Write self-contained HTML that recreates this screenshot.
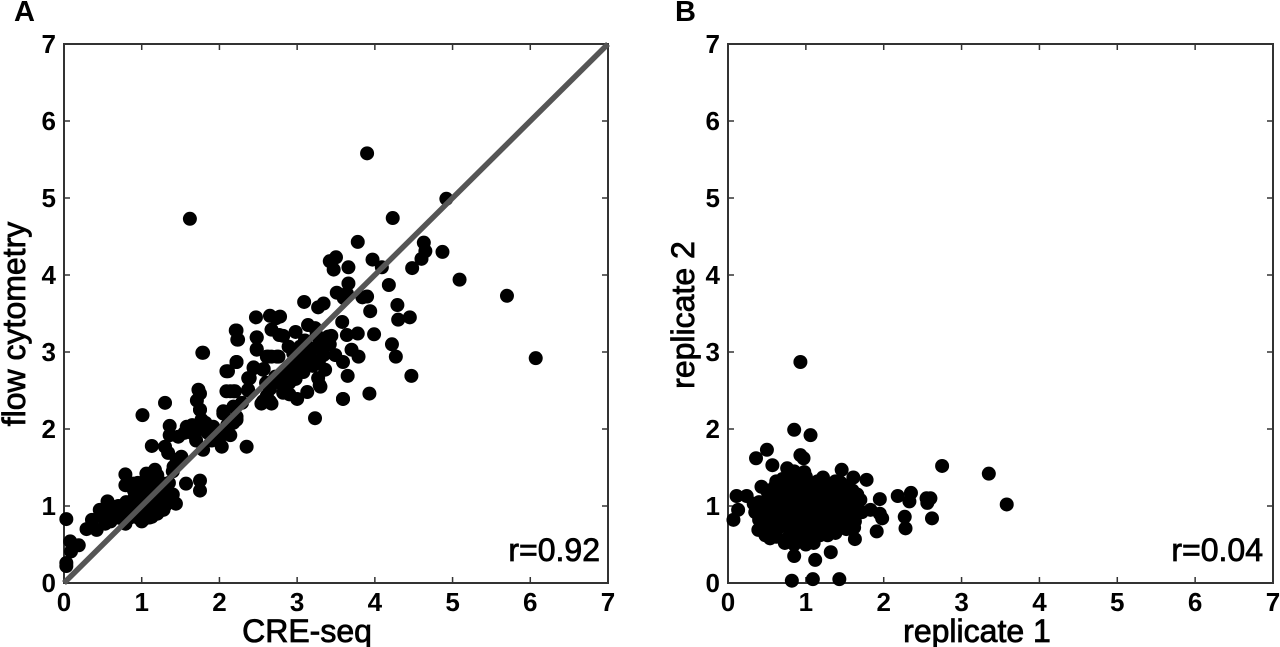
<!DOCTYPE html>
<html>
<head>
<meta charset="utf-8">
<style>
html,body{margin:0;padding:0;background:#fff;width:1280px;height:647px;overflow:hidden}
svg{display:block}
text{font-family:"Liberation Sans",sans-serif;fill:#000}
.tick{font-size:26px;font-weight:bold}
.title{font-size:32px;stroke:#000;stroke-width:.8px}
.note{font-size:32px;stroke:#000;stroke-width:.8px}
.letter{font-size:29px;font-weight:bold}
</style>
</head>
<body>
<svg id="figure" width="1280" height="647" viewBox="0 0 1280 647" xmlns="http://www.w3.org/2000/svg"></svg>
<script>
const tickLabels = [0, 1, 2, 3, 4, 5, 6, 7];
const panelATitles = ["CRE-seq", "flow cytometry", "r=0.92", "A"];
const panelBTitles = ["replicate 1", "replicate 2", "r=0.04", "B"];
const panelAPoints = [
[3.90,5.58],[1.62,4.73],[5.70,3.73],[6.07,2.92],[4.92,4.99],
[4.23,4.74],[3.78,4.43],[4.63,4.42],[4.65,4.31],[4.87,4.30],[4.60,4.21],[4.48,4.09],[5.09,3.94],
[3.50,4.23],[3.42,4.18],[3.47,4.07],[3.66,4.10],[3.97,4.20],[4.09,4.10],[4.18,3.87],[3.66,3.89],
[3.51,3.77],[3.64,3.76],[3.60,3.70],[3.84,3.71],[3.90,3.72],[3.09,3.65],[3.27,3.58],[3.34,3.63],
[3.94,3.53],[4.29,3.61],[4.30,3.42],[4.45,3.45],[2.47,3.45],[2.65,3.47],[2.78,3.46],[2.73,3.44],
[2.67,3.29],[2.77,3.22],[2.82,3.21],[2.98,3.26],[3.14,3.35],[3.23,3.31],[3.58,3.39],[3.44,3.21],
[3.64,3.22],[3.78,3.24],[3.99,3.23],[4.22,3.10],[4.27,2.94],[4.47,2.69],[2.21,3.28],[2.23,3.16],
[2.48,3.19],[2.48,3.04],[1.79,2.99],[2.22,2.87],[2.11,2.75],[2.44,2.80],[2.57,2.78],[2.37,2.66],
[2.14,2.49],[2.20,2.49],[2.37,2.51],[2.67,2.94],[2.76,2.94],[2.61,2.94],[2.89,3.07],[3.04,3.07],
[3.17,3.01],[3.29,3.16],[3.34,2.96],[3.49,2.96],[3.59,2.87],[3.70,3.03],[3.79,2.94],[3.36,2.77],
[3.27,2.66],[3.30,2.55],[3.65,2.69],[3.59,2.39],[3.93,2.46],[3.23,2.14],[3.13,2.48],[3.00,2.39],
[2.82,2.47],[2.67,2.33],[2.54,2.33],[2.61,2.43],[2.65,2.52],[2.78,2.60],[2.88,2.73],[2.90,2.60],
[3.08,2.74],[3.03,2.87],[3.17,2.92],[3.13,2.97],[2.05,2.20],[2.18,2.29],[2.29,2.34],[2.18,2.08],
[2.22,2.16],[1.88,2.03],[1.75,2.25],[1.75,2.46],[3.22,3.05],[3.30,3.10],[3.40,3.20],[2.95,2.85],
[2.98,2.65],[2.72,2.68],[3.20,2.82],[2.95,2.98],[3.05,2.95],[3.10,2.82],[3.28,2.88],[3.42,3.10],
[2.90,2.45],[2.80,2.70],[2.60,2.60],[3.00,2.75],[3.25,3.22],[3.10,3.15],
[0.03,0.83],[0.08,0.54],[0.19,0.49],[0.03,0.26],[0.03,0.22],[0.09,0.41],[0.29,0.70],[0.36,0.82],
[0.42,0.69],[0.46,0.95],[0.56,1.06],[0.59,0.90],[0.68,0.98],[0.53,0.77],[0.79,1.41],[0.79,1.27],
[0.79,0.77],[0.89,1.29],[0.96,1.21],[1.06,1.42],[1.17,1.47],[1.02,0.82],[1.13,0.86],[1.28,0.95],
[1.44,1.03],[1.57,1.29],[1.75,1.33],[1.75,1.20],[1.01,2.18],[1.30,2.34],[1.13,1.78],[1.30,1.77],
[1.34,1.69],[1.51,1.64],[1.41,1.51],[1.36,2.04],[1.36,1.92],[1.47,1.90],[1.58,2.03],[1.66,1.94],
[1.73,2.51],[1.71,2.37],[1.75,2.25],[1.77,2.12],[1.92,2.03],[1.79,1.73],[2.03,1.77],[2.01,1.90],
[2.14,1.92],[2.35,1.77],[2.22,2.12],[2.05,2.23],[1.78,2.99],[2.09,2.75],[2.22,2.87],[2.09,2.49],
[2.18,2.49],[2.37,2.50],[2.39,2.66],[2.44,2.79],[2.56,2.77],[2.24,3.16],[2.22,3.28],[2.48,3.19],
[2.48,3.03],[2.56,2.36],[2.65,2.36],[2.63,2.94],[2.74,2.94],[3.59,2.39],[3.29,2.57],
[1.55,1.95],[1.70,1.85],[1.85,1.95],[1.75,2.00],[1.65,2.05],[1.82,2.08],[1.90,1.85],[2.10,2.05],[1.45,1.60],
[0.50,0.85],[0.55,0.95],[0.60,0.80],[0.60,1.00],[0.65,0.90],[0.70,0.85],[0.70,1.00],[0.75,0.95],
[0.80,0.90],[0.80,1.05],[0.85,1.00],[0.85,0.85],[0.90,0.95],[0.90,1.10],[0.95,0.85],[0.95,1.05],
[1.00,0.95],[1.00,1.15],[1.00,0.85],[1.05,1.05],[1.05,1.25],[1.05,0.90],[1.10,1.00],[1.10,1.15],
[1.10,1.35],[1.15,0.95],[1.15,1.10],[1.15,1.30],[1.20,1.00],[1.20,1.20],[1.20,0.90],[1.25,1.10],
[1.25,1.30],[1.30,1.00],[1.30,1.15],[1.35,1.10],[1.35,1.30],[1.40,1.15],[1.20,1.40],[1.10,0.85],
[1.00,0.80],[0.90,1.20],[0.95,1.30],[1.40,1.45]
];
const panelBPoints = [
[0.93,2.87],[0.85,1.99],[1.06,1.92],[0.50,1.73],[0.36,1.62],[0.57,1.53],[0.93,1.66],[0.97,1.62],
[0.76,1.49],[1.46,1.47],[1.61,1.37],[1.78,1.34],[1.22,1.37],[0.98,1.44],[2.75,1.52],[3.35,1.42],
[3.58,1.02],[2.35,1.17],[2.18,1.13],[2.33,1.06],[2.55,1.10],[2.60,1.10],[2.56,1.04],[2.62,0.84],
[2.27,0.86],[2.28,0.71],[1.95,1.09],[1.98,0.84],[1.91,0.67],[1.95,0.90],[1.83,0.95],[1.63,0.57],
[1.32,0.40],[1.12,0.30],[0.85,0.35],[0.82,0.03],[1.09,0.05],[1.43,0.05],[0.07,0.82],[0.11,1.13],
[0.24,1.13],[0.33,1.03],[0.13,0.95],[0.43,1.25],[0.39,0.69],[0.54,0.58],[0.73,0.52],[1.10,0.52],
[1.38,0.65],[1.63,0.80],[1.70,1.08],
[0.70,1.35],[0.80,1.38],[0.90,1.35],[1.00,1.38],[1.30,1.28],[1.45,1.30],[1.60,1.20],
[0.50,1.20],[0.60,1.25],[0.70,1.22],[0.80,1.25],[0.90,1.22],[1.00,1.25],[1.10,1.25],[1.20,1.22],[1.30,1.18],[1.40,1.20],[1.50,1.15],
[0.40,1.05],[0.50,1.08],[0.60,1.10],[0.70,1.10],[0.80,1.12],[0.90,1.10],[1.00,1.12],[1.10,1.10],[1.20,1.10],[1.30,1.08],[1.40,1.10],[1.50,1.05],[1.60,1.05],
[0.45,0.95],[0.55,0.97],[0.65,0.98],[0.75,1.00],[0.85,0.98],[0.95,1.00],[1.05,0.98],[1.15,1.00],[1.25,0.97],[1.35,0.98],[1.45,0.97],[1.55,0.95],[1.65,0.95],
[0.40,0.82],[0.50,0.85],[0.60,0.85],[0.70,0.87],[0.80,0.88],[0.90,0.85],[1.00,0.87],[1.10,0.88],[1.20,0.85],[1.30,0.85],[1.40,0.87],[1.50,0.85],[1.58,0.82],
[0.45,0.72],[0.55,0.72],[0.65,0.72],[0.75,0.75],[0.85,0.73],[0.95,0.75],[1.05,0.72],[1.15,0.73],[1.25,0.72],[1.35,0.75],[1.45,0.75],
[0.78,0.60],[0.88,0.62],[0.98,0.60],[1.08,0.62],[1.18,0.62],[1.28,0.62],[0.85,0.50],[1.00,0.50],
[0.62,1.32],[1.52,1.25],[1.66,1.15],[1.72,0.92],[1.62,0.72],[1.52,0.70],[0.35,0.92],[0.48,0.62],[0.62,0.60],[1.38,1.32],[1.15,1.32],[0.85,1.45]
];
const svgNS = "http://www.w3.org/2000/svg";
const figure = document.getElementById("figure");
const axisColor = "#333";
function mk(tag, attrs, parent, content) {
  const el = document.createElementNS(svgNS, tag);
  for (const k in attrs) el.setAttribute(k, attrs[k]);
  if (content !== undefined) el.textContent = content;
  parent.appendChild(el);
  return el;
}
function drawPanel(id, left, right, titles, points, withLine, noteX, xTitleX, yTitleX, yTitleY, letterX) {
  const top = 44, bottom = 583, maxV = 7;
  const sx = v => left + (right - left) * v / maxV;
  const sy = v => bottom - (bottom - top) * v / maxV;
  const g = mk("g", {}, figure);
  
  
  const box = mk("rect", {x:left, y:top, width:right-left, height:bottom-top, fill:"none", stroke:axisColor, "stroke-width":2}, g);
  
  
  tickLabels.forEach(t => {
    if (t > 0 && t < maxV) {
      [[sx(t),bottom,sx(t),bottom-6],[sx(t),top,sx(t),top+6],[left,sy(t),left+6,sy(t)],[right,sy(t),right-6,sy(t)]].forEach(c => {
        const tm = mk("line", {x1:c[0], y1:c[1], x2:c[2], y2:c[3], stroke:axisColor, "stroke-width":1.5}, g);
        
        
      });
    }
    const xl = mk("text", {x:sx(t), y:bottom+28, "text-anchor":"middle", class:"tick"}, g, t);
    
    
    const yl = mk("text", {x:left-8, y:sy(t)+9, "text-anchor":"end", class:"tick"}, g, t);
    
    
  });
  points.forEach(p => {
    const dot = mk("circle", {cx:sx(p[0]), cy:sy(p[1]), r:7, fill:"#000"}, g);
    
    
  });
  if (withLine) {
    const line = mk("line", {x1:sx(0), y1:sy(0), x2:sx(maxV), y2:sy(maxV), stroke:"#555", "stroke-width":5.5}, g);
    
    
  }
  const xt = mk("text", {x:xTitleX, y:642, "text-anchor":"middle", class:"title"}, g, titles[0]);
  
  
  const yt = mk("text", {x:0, y:0, "text-anchor":"middle", class:"title", transform:"translate(" + yTitleX + "," + yTitleY + ") rotate(-90)"}, g, titles[1]);
  
  
  const note = mk("text", {x:noteX, y:561, "text-anchor":"end", class:"note"}, g, titles[2]);
  
  
  const letter = mk("text", {x:letterX, y:21, class:"letter"}, g, titles[3]);
  
  
}
drawPanel("panel-a", 64, 608, panelATitles, panelAPoints, true, 600, 307, 25, 324, 14);
drawPanel("panel-b", 728, 1273, panelBTitles, panelBPoints, false, 1263, 977, 694, 315, 675);
</script>
</body>
</html>
